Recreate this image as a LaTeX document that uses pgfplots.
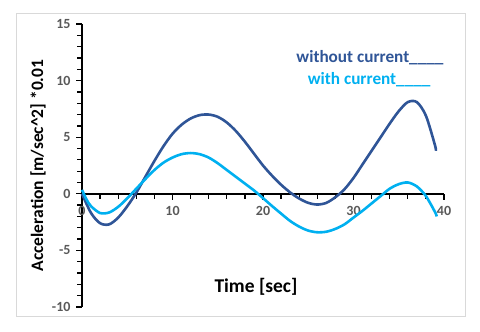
\documentclass[border=0pt]{standalone}
\usepackage{fontspec}
\setmainfont{Carlito}
\usepackage{pgfplots}
\pgfplotsset{compat=1.18}
\definecolor{nocur}{HTML}{2F5597}
\definecolor{withcur}{HTML}{00B0F0}
\definecolor{ticklab}{HTML}{595959}
\definecolor{frame}{HTML}{D9D9D9}

\begin{document}
\begin{tikzpicture}
\path[use as bounding box] (0pt,0pt) rectangle (480pt,332pt);
\draw[frame, line width=1pt] (16pt,15pt) rectangle (465pt,318pt);
\begin{axis}[scale only axis, width=362pt, height=283pt,
  at={(82pt,25pt)}, anchor=south west,
  axis lines=middle, axis line style={black, line width=1.6pt, -},
  xmin=0, xmax=40, ymin=-10, ymax=15,
  xtick={0,10,20,30,40}, ytick={-10,-5,0,5,10,15},
  minor x tick num=4, minor y tick num=4,
  hide obscured x ticks=false, hide obscured y ticks=false,
  tick align=outside, major tick length=6pt, minor tick length=5pt,
  every tick/.style={black, line width=1.3pt},
  minor tick style={black, line width=1.3pt},
  major tick style={black, line width=1.3pt},
  /pgf/number format/assume math mode=true,
  ticklabel style={font=\fontsize{14}{16}\selectfont\bfseries, text=ticklab},
  xticklabel style={anchor=north, yshift=-3pt},
  yticklabel style={anchor=east, xshift=-2pt},
  clip=false]
\addplot[nocur, line width=2.6pt, smooth] coordinates {
 (0,0) (1,-1.7) (2,-2.6) (3,-2.7) (4,-2.1) (5,-1.1) (6,0.1) (7,1.5) (8,2.9)
 (9,4.2) (10,5.3) (11,6.1) (12,6.65) (13,6.95) (14,7.0) (15,6.8) (16,6.3)
 (17,5.55) (18,4.6) (19,3.55) (20,2.5) (21,1.6) (22,0.8) (23,0.12) (24,-0.42)
 (25,-0.8) (26,-0.95) (27,-0.8) (28,-0.3) (29,0.4) (30,1.4) (31,2.6) (32,3.8)
 (33,5.0) (34,6.2) (35,7.3) (36,8.1) (37,8.1) (38,6.9) (39,4.3) (39.1,3.8)};
\addplot[withcur, line width=2.6pt, smooth] coordinates {
 (0,0.35) (0.5,-0.5) (1,-1.1) (2,-1.7) (3,-1.65) (4,-1.15) (5,-0.4) (6,0.45)
 (7,1.3) (8,2.1) (9,2.75) (10,3.2) (11,3.5) (12,3.6) (13,3.5) (14,3.2)
 (15,2.7) (16,2.1) (17,1.5) (18,0.9) (19,0.3) (20,-0.38) (21,-1.08) (22,-1.75)
 (23,-2.4) (24,-2.9) (25,-3.25) (26,-3.4) (27,-3.35) (28,-3.1) (29,-2.7)
 (30,-2.1) (31,-1.5) (32,-0.85) (33,-0.2) (34,0.45) (35,0.85) (36,1.0)
 (37,0.65) (38,-0.2) (39,-1.6) (39.2,-2.0)};
\end{axis}
\node[rotate=90, font=\fontsize{17.5}{20}\selectfont\bfseries] at (38pt,166.5pt)
  {Acceleration [m/sec\textasciicircum 2] *0.01};
\node[font=\fontsize{19.5}{22}\selectfont\bfseries] at (256pt,45pt) {Time [sec]};
\node[font=\fontsize{17.2}{20}\selectfont\bfseries, text=nocur, anchor=east] at (447pt,274pt)
  {without current\_\_\_\_};
\node[font=\fontsize{17.2}{20}\selectfont\bfseries, text=withcur, anchor=east] at (434pt,252pt)
  {with current\_\_\_\_};
\end{tikzpicture}
\end{document}
